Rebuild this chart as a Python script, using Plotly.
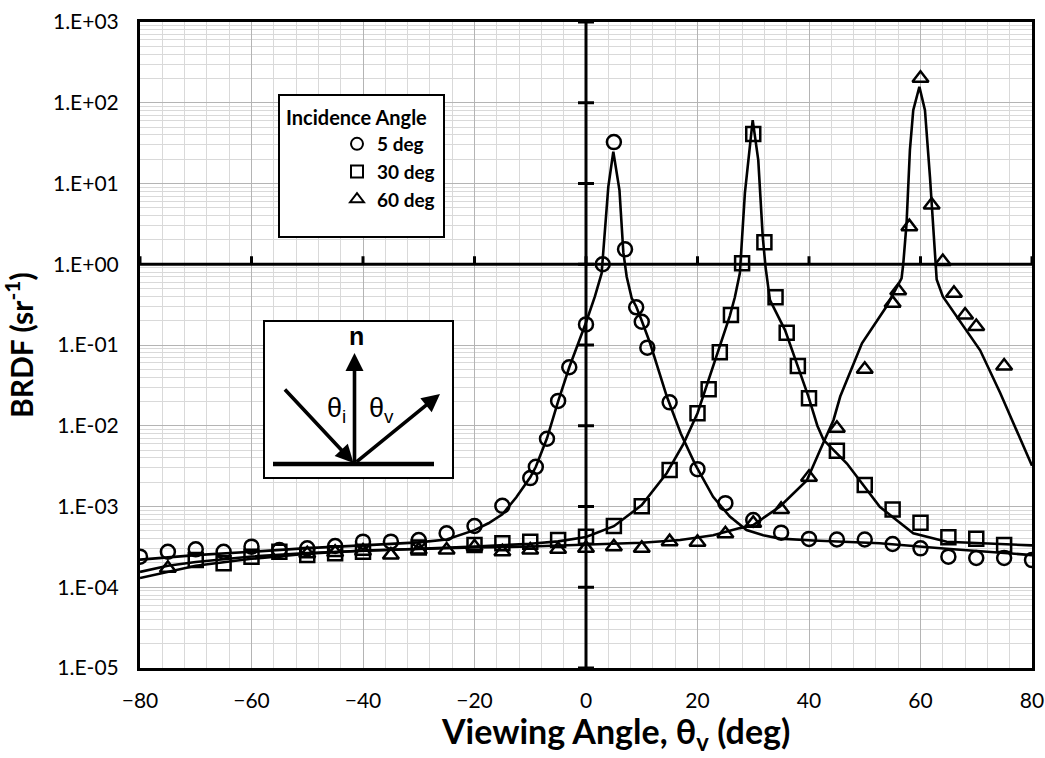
import plotly.graph_objects as go

# ---------------- data ----------------
# measured points, incidence 5 deg (circles)
x5 = [-80, -75, -70, -65, -60, -55, -50, -45, -40, -35, -30, -25, -20, -15, -10, -9, -7, -5, -3, 0,
      3, 5, 7, 9, 10, 11, 15, 20, 25, 30, 35, 40, 45, 50, 55, 60, 65, 70, 75, 80]
y5 = [2.39e-4, 2.75e-4, 2.95e-4, 2.75e-4, 3.18e-4, 2.89e-4, 3.03e-4, 3.24e-4, 3.67e-4, 3.67e-4,
      3.85e-4, 4.66e-4, 5.74e-4, 1.02e-3, 2.25e-3, 3.1e-3, 6.9e-3, 0.0203, 0.053, 0.18,
      1.0, 32.6, 1.53, 0.293, 0.194, 0.0927, 0.0195, 2.9e-3, 1.1e-3, 6.8e-4,
      4.74e-4, 3.97e-4, 3.9e-4, 3.9e-4, 3.43e-4, 3.03e-4, 2.39e-4, 2.3e-4, 2.3e-4, 2.17e-4]

# measured points, incidence 30 deg (squares)
x30 = [-70, -65, -60, -55, -50, -45, -40, -30, -20, -15, -10, -5, 0, 5, 10, 15, 20, 22, 24, 26,
       28, 30, 32, 34, 36, 38, 40, 45, 50, 55, 60, 65, 70, 75]
y30 = [2.18e-4, 1.98e-4, 2.39e-4, 2.75e-4, 2.5e-4, 2.63e-4, 2.75e-4, 3.1e-4, 3.33e-4, 3.5e-4,
       3.67e-4, 3.85e-4, 4.23e-4, 5.74e-4, 1.01e-3, 2.83e-3, 0.0143, 0.0283, 0.0813, 0.235,
       1.03, 41, 1.87, 0.39, 0.142, 0.055, 0.0219, 4.9e-3, 1.85e-3, 9.2e-4, 6.3e-4, 4.15e-4, 4.0e-4, 3.33e-4]

# measured points, incidence 60 deg (triangles)
x60 = [-75, -50, -45, -40, -35, -30, -25, -20, -15, -10, -5, 0, 5, 10, 15, 20, 25, 30, 35, 40,
       45, 50, 55, 56, 58, 60, 62, 64, 66, 68, 70, 75]
y60 = [1.72e-4, 2.6e-4, 2.7e-4, 2.8e-4, 2.5e-4, 2.89e-4, 2.89e-4, 3.18e-4, 2.75e-4, 2.89e-4,
       2.95e-4, 3.03e-4, 3.18e-4, 3.03e-4, 3.67e-4, 3.6e-4, 4.6e-4, 6.2e-4, 9.2e-4, 2.3e-3,
       9.3e-3, 0.05, 0.33, 0.47, 2.92, 201, 5.42, 1.08, 0.437, 0.235, 0.169, 0.055]

# model curves
c5x = [-80, -70, -60, -50, -40, -30, -25, -20, -17.5, -15, -12.5, -10, -9, -7, -5, -3, 0, 1.6, 2.8, 3.4,
       4, 4.9, 6, 6.7, 7.3, 8.2, 9, 10, 11.5, 14.5, 17, 19.6, 22.8, 25.8, 28.8, 31.8, 34.8, 40.8,
       52.7, 64.7, 80]
c5y = [2.2e-4, 2.5e-4, 2.75e-4, 3.05e-4, 3.3e-4, 3.6e-4, 3.9e-4, 5.1e-4, 6.2e-4, 8.0e-4, 1.3e-3,
       2.3e-3, 3.1e-3, 7e-3, 0.02, 0.053, 0.19, 0.4, 0.77, 2.4, 9.1, 24.8, 8.3, 1.4, 0.7, 0.38,
       0.3, 0.2, 0.105, 0.023, 8e-3, 3.3e-3, 1.32e-3, 7.5e-4, 5.1e-4, 4.4e-4, 4.0e-4, 3.8e-4,
       3.5e-4, 3.0e-4, 2.5e-4]

c30x = [-80, -75, -70, -60, -50, -40, -30, -20, -10, -5, 0, 5, 10, 14.5, 17.5, 20, 21.6, 23.7, 25.8,
        26.7, 27.6, 28.5, 29.9, 30.9, 31.7, 32.2, 33, 35.7, 37.8, 39.9, 41.5, 42.6, 46.8, 52.7,
        58.7, 64.7, 80]
c30y = [1.55e-4, 1.85e-4, 2.05e-4, 2.4e-4, 2.65e-4, 2.85e-4, 3.0e-4, 3.2e-4, 3.45e-4, 3.7e-4,
        4.2e-4, 5.7e-4, 1.04e-3, 2.6e-3, 6e-3, 0.0143, 0.031, 0.086, 0.23, 0.39, 0.78, 7.6, 61,
        19.5, 2.2, 0.93, 0.36, 0.153, 0.059, 0.023, 0.01, 6.7e-3, 3.4e-3, 9.9e-4, 4.66e-4,
        3.66e-4, 3.3e-4]

c60x = [-80, -75, -70, -60, -50, -40, -30, -20, -10, 0, 10, 16.9, 22.8, 27.6, 30, 34.8, 39.6, 42,
        44.4, 45.6, 49.5, 53.9, 56.6, 56.9, 57.5, 58.1, 58.7, 59.8, 60.8, 61.7, 62.5, 62.9, 64,
        67, 70.7, 74.3, 77.8, 80]
c60y = [1.3e-4, 1.55e-4, 1.85e-4, 2.25e-4, 2.6e-4, 2.85e-4, 3.0e-4, 3.1e-4, 3.2e-4, 3.35e-4,
        3.55e-4, 3.85e-4, 4.4e-4, 5.4e-4, 5.9e-4, 1.0e-3, 2.1e-3, 5e-3, 0.0118, 0.023, 0.105,
        0.3, 0.67, 1.0, 3.2, 26, 81, 158, 81, 12, 1.5, 0.65, 0.4, 0.2, 0.086, 0.0255, 7.3e-3, 3.2e-3]

x_ticks = [-80, -60, -40, -20, 0, 20, 40, 60, 80]
y_ticks = [1e-5, 1e-4, 1e-3, 1e-2, 1e-1, 1e0, 1e1, 1e2, 1e3]
y_ticktext = ["1.E-05", "1.E-04", "1.E-03", "1.E-02", "1.E-01", "1.E+00", "1.E+01", "1.E+02", "1.E+03"]

series_names = ["5 deg", "30 deg", "60 deg"]
symbols = ["circle-open", "square-open", "triangle-up-open"]

# ---------------- figure ----------------
FONT = "Lato, 'Open Sans', sans-serif"
AFONT = "'Liberation Sans', Arial, sans-serif"
W, H = 1045, 758
L, R, T, B = 140, 13, 22, 90
PW, PH = W - L - R, H - T - B


def px(xp):
    return (xp - L) / PW


def py(yp):
    return (H - B - yp) / PH


fig = go.Figure()

for cx, cy in [(c5x, c5y), (c30x, c30y), (c60x, c60y)]:
    fig.add_trace(go.Scatter(x=cx, y=cy, mode="lines", line=dict(color="black", width=2.6),
                             showlegend=False, hoverinfo="skip"))

for (mx, my), name, sym in zip([(x5, y5), (x30, y30), (x60, y60)], series_names, symbols):
    fig.add_trace(go.Scatter(x=mx, y=my, mode="markers", name=name,
                             marker=dict(symbol=sym, size=14, color="black",
                                         line=dict(color="black", width=2.5))))

# cross axes at y = 1 and x = 0
shapes = [
    dict(type="line", xref="paper", x0=0, x1=1, yref="y", y0=1, y1=1,
         line=dict(color="black", width=3), layer="above"),
    dict(type="line", xref="x", x0=0, x1=0, yref="paper", y0=0, y1=1,
         line=dict(color="black", width=3), layer="above"),
]
for xv in x_ticks:
    shapes.append(dict(type="line", xref="x", x0=xv, x1=xv, yref="y", ysizemode="pixel",
                       yanchor=1, y0=-8, y1=8, line=dict(color="black", width=3)))
for yv in y_ticks:
    shapes.append(dict(type="line", yref="y", y0=yv, y1=yv, xref="x", xsizemode="pixel",
                       xanchor=0, x0=-8, x1=8, line=dict(color="black", width=3)))

# legend frame
shapes.append(dict(type="rect", xref="paper", yref="paper", x0=px(279), x1=px(444), y0=py(237), y1=py(95),
                   line=dict(color="black", width=2), fillcolor="white", layer="above"))
# inset diagram box and surface
shapes.append(dict(type="rect", xref="paper", yref="paper", x0=px(264), x1=px(453), y0=py(478), y1=py(321),
                   line=dict(color="black", width=2), fillcolor="white", layer="above"))
shapes.append(dict(type="line", xref="paper", yref="paper", x0=px(273), x1=px(434), y0=py(464), y1=py(464),
                   line=dict(color="black", width=4.5), layer="above"))

annotations = []
# arrows (head position, tail offset in pixels)
for hx, hy, ax, ay in [(354.5, 353, 0, 111), (353.5, 463, -70, -75), (440, 394, -85, 69)]:
    annotations.append(dict(x=px(hx), y=py(hy), xref="paper", yref="paper", text="", showarrow=True,
                            ax=ax, ay=ay, arrowhead=2, arrowsize=1.0, arrowwidth=3.6, arrowcolor="black"))
annotations += [
    dict(x=px(356), y=py(336), xref="paper", yref="paper", text="<b>n</b>", showarrow=False,
         xanchor="center", yanchor="middle", font=dict(family=AFONT, size=25, color="black")),
    dict(x=px(336), y=py(410), xref="paper", yref="paper", text="θ<sub>i</sub>", showarrow=False,
         xanchor="center", yanchor="middle", font=dict(family=AFONT, size=27, color="black")),
    dict(x=px(381), y=py(410), xref="paper", yref="paper", text="θ<sub>v</sub>", showarrow=False,
         xanchor="center", yanchor="middle", font=dict(family=AFONT, size=27, color="black")),
    # axis titles
    dict(x=px(615), y=py(733), xref="paper", yref="paper", showarrow=False,
         text="<b>Viewing Angle, θ<sub>v</sub> (deg)</b>", xanchor="center", yanchor="middle",
         font=dict(family=FONT, size=34, color="black")),
    dict(x=px(19), y=py(345), xref="paper", yref="paper", showarrow=False, textangle=-90,
         text="<b>BRDF (sr<sup>-1</sup>)</b>", xanchor="center", yanchor="middle",
         font=dict(family=FONT, size=30, color="black")),
]

fig.update_layout(
    width=W, height=H,
    margin=dict(l=L, r=R, t=T, b=B, autoexpand=False),
    paper_bgcolor="white", plot_bgcolor="white",
    font=dict(family=FONT, color="black"),
    shapes=shapes, annotations=annotations,
    legend=dict(x=px(284), y=py(99), xanchor="left", yanchor="top",
                bgcolor="rgba(0,0,0,0)", borderwidth=0,
                title=dict(text="<b>Incidence Angle</b>", side="top",
                           font=dict(size=20, family=FONT)),
                font=dict(size=19, family=FONT, weight="bold"),
                indentation=53, tracegroupgap=0, itemsizing="constant"),
    showlegend=True,
)

fig.update_xaxes(
    range=[-80, 80], tickvals=x_ticks, ticks="", ticklabelstandoff=12,
    tickfont=dict(size=21, family=FONT),
    showline=True, mirror=True, linecolor="black", linewidth=3,
    showgrid=True, gridcolor="#b4b4b4", gridwidth=1, zeroline=False,
    minor=dict(dtick=4, showgrid=True, gridcolor="#d9d9d9", gridwidth=1),
)
fig.update_yaxes(
    type="log", range=[-5, 3], tickvals=y_ticks, ticktext=y_ticktext, ticks="",
    ticklabelstandoff=14, tickfont=dict(size=21, family=FONT),
    showline=True, mirror=True, linecolor="black", linewidth=3,
    showgrid=True, gridcolor="#b4b4b4", gridwidth=1, zeroline=False,
    minor=dict(dtick="D1", showgrid=True, gridcolor="#d9d9d9", gridwidth=1),
)

fig.write_html("out.html", config={"displayModeBar": False},
               post_script="document.body.style.margin='0';")
